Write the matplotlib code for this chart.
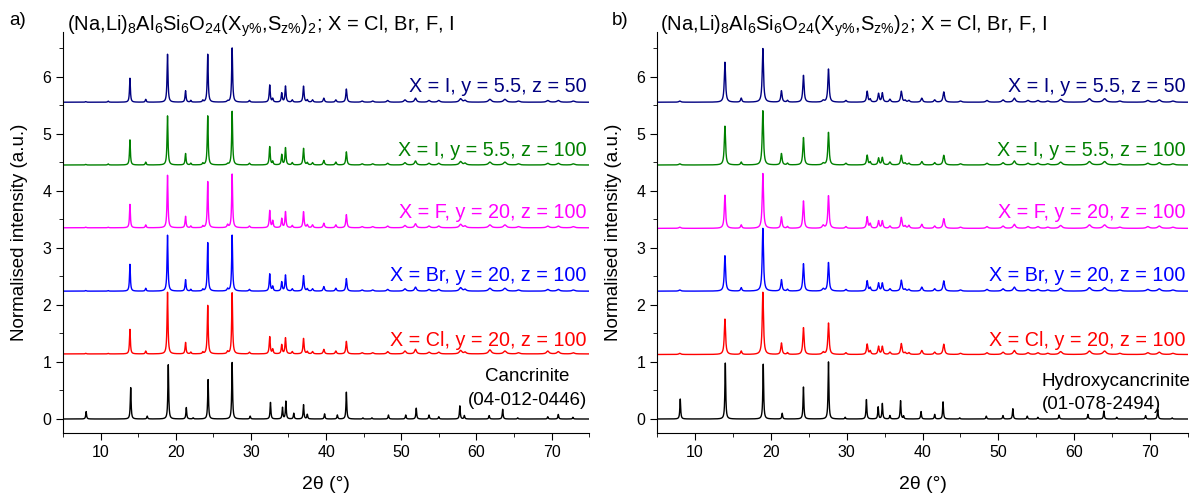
import numpy as np
import matplotlib.pyplot as plt
from matplotlib.ticker import MultipleLocator

plt.rcParams['font.family'] = ['Liberation Sans', 'DejaVu Sans']
plt.rcParams['mathtext.fontset'] = 'custom'
plt.rcParams['mathtext.rm'] = 'Liberation Sans'
plt.rcParams['mathtext.it'] = 'Liberation Sans'

# ---- panel a) : samples + cancrinite reference ----
pos_a = [8.0, 11.0, 13.9, 16.0, 18.9, 21.3, 22.0, 23.6, 24.25, 26.9, 27.5, 29.8,
         32.5, 32.9, 34.1, 34.6, 35.5, 37.0, 37.5, 38.2, 39.7, 41.3, 42.7, 44.8,
         46.2, 48.2, 50.5, 51.9, 53.7, 55.0, 57.9, 58.5, 61.8, 63.8, 65.6, 69.5,
         70.9, 72.9]
wid_a = [0.15, 0.15, 0.14, 0.15, 0.15, 0.15, 0.15, 0.15, 0.15, 0.2, 0.15, 0.2,
         0.16, 0.16, 0.16, 0.16, 0.18, 0.17, 0.18, 0.2, 0.2, 0.2, 0.18, 0.3,
         0.3, 0.3, 0.35, 0.3, 0.35, 0.35, 0.4, 0.35, 0.45, 0.45, 0.4, 0.4,
         0.4, 0.4]
h_a_i50 = [0.01, 0.02, 0.42, 0.05, 0.84, 0.20, 0.03, 0.03, 0.84, 0.02, 0.95, 0.03,
           0.30, 0.06, 0.16, 0.28, 0.04, 0.28, 0.04, 0.04, 0.07, 0.04, 0.23, 0.02,
           0.02, 0.03, 0.04, 0.07, 0.03, 0.03, 0.06, 0.03, 0.05, 0.05, 0.02, 0.03,
           0.03, 0.02]
h_a_i100 = [0.01, 0.02, 0.44, 0.05, 0.86, 0.20, 0.03, 0.03, 0.86, 0.02, 0.94, 0.03,
            0.32, 0.06, 0.18, 0.30, 0.04, 0.29, 0.04, 0.04, 0.08, 0.05, 0.23, 0.02,
            0.02, 0.03, 0.04, 0.07, 0.03, 0.03, 0.06, 0.03, 0.05, 0.05, 0.02, 0.03,
            0.03, 0.02]
h_a_f = [0.01, 0.01, 0.41, 0.05, 0.92, 0.20, 0.03, 0.03, 0.81, 0.05, 0.94, 0.03,
         0.30, 0.12, 0.16, 0.28, 0.04, 0.28, 0.05, 0.05, 0.08, 0.05, 0.23, 0.02,
         0.02, 0.03, 0.04, 0.07, 0.03, 0.03, 0.06, 0.03, 0.05, 0.05, 0.02, 0.03,
         0.03, 0.02]
h_a_br = [0.01, 0.01, 0.47, 0.05, 0.98, 0.20, 0.03, 0.03, 0.85, 0.04, 0.98, 0.03,
          0.30, 0.08, 0.16, 0.28, 0.04, 0.27, 0.04, 0.04, 0.08, 0.05, 0.22, 0.02,
          0.02, 0.03, 0.04, 0.07, 0.03, 0.03, 0.06, 0.03, 0.05, 0.05, 0.02, 0.03,
          0.03, 0.02]
h_a_cl = [0.01, 0.01, 0.43, 0.05, 1.08, 0.20, 0.03, 0.03, 0.85, 0.04, 1.07, 0.03,
          0.30, 0.08, 0.16, 0.28, 0.04, 0.27, 0.04, 0.04, 0.08, 0.05, 0.22, 0.02,
          0.02, 0.04, 0.05, 0.08, 0.03, 0.03, 0.06, 0.03, 0.07, 0.05, 0.02, 0.05,
          0.04, 0.02]
off_a = [5.55, 4.45, 3.35, 2.24, 1.14]

pos_canc = [8.07, 14.0, 16.2, 19.0, 21.4, 22.3, 24.3, 27.5, 29.9, 32.6, 34.2, 34.65,
            35.7, 37.0, 37.5, 39.8, 41.5, 42.7, 44.9, 46.1, 48.3, 50.6, 52.0, 53.7,
            55.0, 57.8, 58.4, 61.7, 63.5, 65.5, 69.5, 70.9, 72.85]
h_canc = [0.13, 0.55, 0.05, 0.95, 0.20, 0.02, 0.69, 0.99, 0.05, 0.29, 0.20, 0.31,
          0.10, 0.25, 0.08, 0.09, 0.07, 0.47, 0.02, 0.02, 0.07, 0.07, 0.19, 0.07,
          0.04, 0.23, 0.06, 0.06, 0.17, 0.02, 0.04, 0.08, 0.03]

# ---- panel b) : samples + hydroxycancrinite reference ----
pos_b = [8.0, 13.95, 16.1, 18.95, 21.4, 22.2, 24.3, 26.9, 27.6, 29.9, 32.7, 33.1,
         34.2, 34.7, 35.7, 37.2, 37.7, 38.2, 39.9, 41.6, 42.8, 45.0, 48.5, 50.6,
         52.1, 53.9, 55.2, 56.5, 58.2, 62.0, 64.0, 66.0, 69.7, 71.2, 73.0]
wid_b = [0.3, 0.2, 0.2, 0.2, 0.2, 0.2, 0.2, 0.3, 0.2, 0.25, 0.2, 0.2,
         0.2, 0.2, 0.25, 0.22, 0.25, 0.25, 0.25, 0.25, 0.25, 0.35, 0.35, 0.35,
         0.35, 0.4, 0.4, 0.4, 0.45, 0.5, 0.5, 0.45, 0.45, 0.45, 0.45]
h_b_i50 = [0.02, 0.70, 0.07, 0.94, 0.20, 0.03, 0.47, 0.03, 0.58, 0.03, 0.19, 0.05,
           0.15, 0.16, 0.05, 0.19, 0.03, 0.03, 0.07, 0.04, 0.18, 0.02, 0.03, 0.04,
           0.07, 0.03, 0.03, 0.02, 0.05, 0.06, 0.06, 0.02, 0.03, 0.04, 0.02]
h_b_i100 = [0.02, 0.68, 0.05, 0.95, 0.20, 0.03, 0.48, 0.03, 0.57, 0.03, 0.17, 0.05,
            0.12, 0.13, 0.05, 0.17, 0.03, 0.03, 0.06, 0.04, 0.17, 0.02, 0.03, 0.04,
            0.07, 0.03, 0.03, 0.02, 0.05, 0.06, 0.06, 0.02, 0.03, 0.04, 0.02]
h_b_f = [0.02, 0.58, 0.06, 0.96, 0.20, 0.03, 0.48, 0.05, 0.57, 0.03, 0.20, 0.08,
         0.13, 0.13, 0.04, 0.19, 0.04, 0.05, 0.07, 0.04, 0.17, 0.02, 0.03, 0.04,
         0.07, 0.03, 0.03, 0.02, 0.05, 0.06, 0.06, 0.02, 0.03, 0.04, 0.02]
h_b_br = [0.02, 0.62, 0.06, 1.10, 0.20, 0.03, 0.48, 0.04, 0.50, 0.03, 0.18, 0.06,
          0.14, 0.14, 0.04, 0.19, 0.03, 0.03, 0.07, 0.04, 0.18, 0.02, 0.03, 0.04,
          0.07, 0.03, 0.03, 0.02, 0.05, 0.06, 0.06, 0.02, 0.03, 0.04, 0.02]
h_b_cl = [0.02, 0.62, 0.06, 1.09, 0.20, 0.03, 0.47, 0.04, 0.55, 0.03, 0.18, 0.06,
          0.14, 0.14, 0.04, 0.19, 0.03, 0.03, 0.07, 0.04, 0.18, 0.02, 0.03, 0.04,
          0.07, 0.03, 0.03, 0.02, 0.05, 0.06, 0.06, 0.02, 0.03, 0.04, 0.02]
off_b = [5.55, 4.45, 3.34, 2.24, 1.13]

pos_hyd = [8.06, 14.0, 19.0, 21.5, 24.3, 27.6, 29.8, 32.6, 34.15, 34.7, 35.7, 37.1,
           37.5, 39.8, 41.6, 42.7, 44.9, 48.4, 50.6, 51.9, 53.8, 55.2, 58.0, 61.8,
           63.9, 65.6, 69.4, 71.0, 72.9]
h_hyd = [0.35, 0.98, 0.96, 0.10, 0.56, 1.00, 0.03, 0.34, 0.21, 0.27, 0.06, 0.32,
         0.05, 0.13, 0.08, 0.30, 0.02, 0.05, 0.06, 0.18, 0.05, 0.03, 0.07, 0.08,
         0.14, 0.03, 0.06, 0.17, 0.02]

labels_a = ['X = I, y = 5.5, z = 50', 'X = I, y = 5.5, z = 100', 'X = F, y = 20, z = 100',
            'X = Br, y = 20, z = 100', 'X = Cl, y = 20, z = 100']
colors = ['#000080', '#008000', '#FF00FF', '#0000FF', '#FF0000']
label_y = [5.83, 4.71, 3.61, 2.52, 1.38]
title_txt = r'(Na,Li)$_\mathrm{8}$Al$_\mathrm{6}$Si$_\mathrm{6}$O$_\mathrm{24}$(X$_\mathrm{y\%}$,S$_\mathrm{z\%}$)$_\mathrm{2}$; X = Cl, Br, F, I'

tt = np.arange(5, 75.001, 0.01)


def patron(pos, alt, ancho):
    y = np.zeros_like(tt)
    for p, h, w in zip(pos, alt, ancho):
        y += h / (1 + ((tt - p) / (w / 2)) ** 2)
    return y


fig = plt.figure(figsize=(11.92, 4.97), dpi=100)
ax1 = fig.add_axes([0.0529, 0.1288, 0.4413, 0.8068])
ax2 = fig.add_axes([0.5512, 0.1288, 0.4455, 0.8068])

series_a = [h_a_i50, h_a_i100, h_a_f, h_a_br, h_a_cl]
series_b = [h_b_i50, h_b_i100, h_b_f, h_b_br, h_b_cl]

for h, off, c in zip(series_a, off_a, colors):
    ax1.plot(tt, patron(pos_a, h, wid_a) + off, color=c, linewidth=1.0)
ax1.plot(tt, patron(pos_canc, h_canc, [0.13] * len(pos_canc)), color='black', linewidth=1.0)

for h, off, c in zip(series_b, off_b, colors):
    ax2.plot(tt, patron(pos_b, h, wid_b) + off, color=c, linewidth=1.0)
ax2.plot(tt, patron(pos_hyd, h_hyd, [0.13] * len(pos_hyd)), color='black', linewidth=1.0)

for ax in (ax1, ax2):
    ax.set_xlim(5, 75)
    ax.set_ylim(-0.245, 6.78)
    ax.spines['top'].set_visible(False)
    ax.spines['right'].set_visible(False)
    ax.xaxis.set_major_locator(MultipleLocator(10))
    ax.xaxis.set_minor_locator(MultipleLocator(5))
    ax.yaxis.set_major_locator(MultipleLocator(1))
    ax.yaxis.set_minor_locator(MultipleLocator(0.5))
    ax.tick_params(which='major', direction='out', length=5, labelsize=11.5)
    ax.tick_params(which='minor', direction='out', length=3)
    ax.set_xlabel('2θ (°)', fontsize=14, labelpad=12)
    ax.set_ylabel('Normalised intensity (a.u.)', fontsize=13.5, labelpad=10)
    for lab, yy, c in zip(labels_a, label_y, colors):
        ax.text(74.7, yy, lab, color=c, fontsize=14.2, ha='right', va='center')

ax1.text(66.8, 0.74, 'Cancrinite', fontsize=13.5, ha='center', va='center')
ax1.text(66.8, 0.33, '(04-012-0446)', fontsize=13.5, ha='center', va='center')
ax2.text(55.7, 0.65, 'Hydroxycancrinite', fontsize=13.5, ha='left', va='center')
ax2.text(55.7, 0.26, '(01-078-2494)', fontsize=13.5, ha='left', va='center')

fig.text(0.056, 0.948, title_txt, fontsize=14.5, ha='left', va='center')
fig.text(0.554, 0.948, title_txt, fontsize=14.5, ha='left', va='center')
fig.text(0.008, 0.958, 'a)', fontsize=13.5, ha='left', va='center')
fig.text(0.513, 0.958, 'b)', fontsize=13.5, ha='left', va='center')

plt.savefig('out.png', dpi=100)
